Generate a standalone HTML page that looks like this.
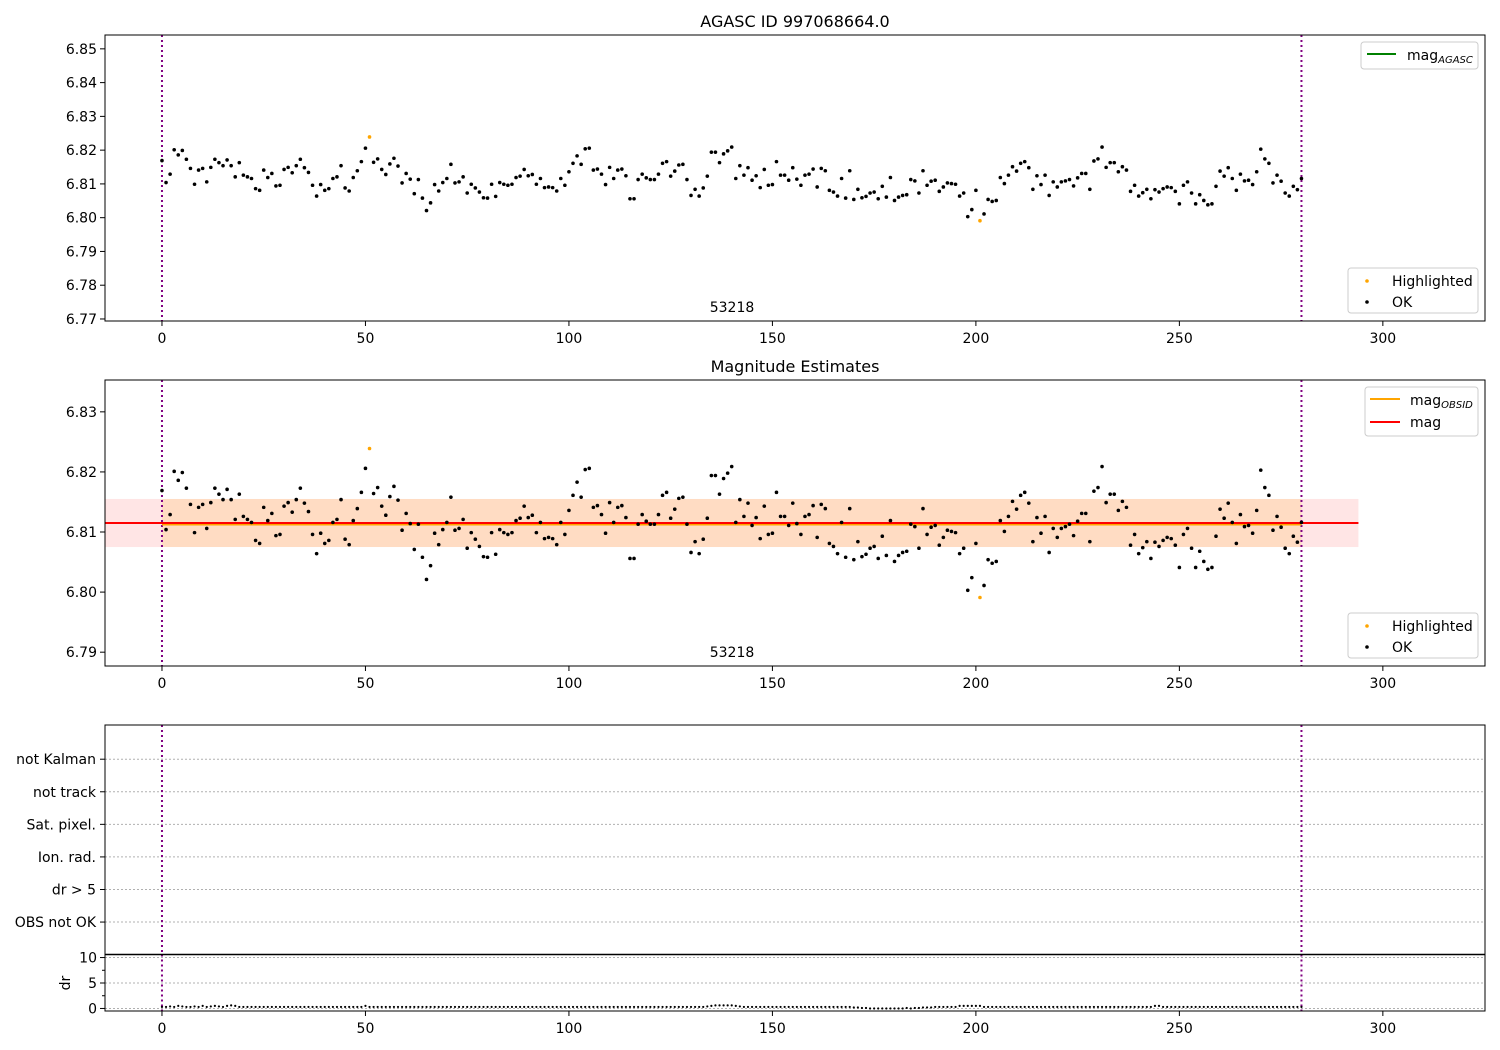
<!DOCTYPE html>
<html><head><meta charset="utf-8"><style>
html,body{margin:0;padding:0;background:#fff;}
svg{display:block;font-family:"DejaVu Sans","Liberation Sans",sans-serif;}
</style></head><body>
<svg id="chart" width="1500" height="1050" viewBox="0 0 1500 1050" xmlns="http://www.w3.org/2000/svg"></svg>
<script>
const magValues = [
6.8169,6.8104,6.8129,6.8201,6.8186,6.8199,6.8173,6.8146,6.8099,6.8141,
6.8146,6.8106,6.8149,6.8173,6.8163,6.8154,6.8171,6.8154,6.8121,6.8163,
6.8126,6.8121,6.8116,6.8086,6.8081,6.8141,6.8119,6.8131,6.8094,6.8096,
6.8143,6.8149,6.8133,6.8154,6.8173,6.8148,6.8134,6.8096,6.8064,6.8098,
6.8081,6.8086,6.8116,6.8121,6.8154,6.8088,6.8079,6.8119,6.8139,6.8166,
6.8206,6.8239,6.8164,6.8174,6.8143,6.8128,6.8159,6.8176,6.8153,6.8103,
6.8131,6.8114,6.8071,6.8113,6.8058,6.8021,6.8044,6.8098,6.8079,6.8104,
6.8116,6.8158,6.8103,6.8106,6.8121,6.8073,6.8099,6.8088,6.8076,6.8059,
6.8058,6.8099,6.8063,6.8104,6.8099,6.8096,6.8099,6.8119,6.8123,6.8143,
6.8124,6.8128,6.8099,6.8116,6.8089,6.8091,6.8089,6.8079,6.8116,6.8096,
6.8136,6.8161,6.8183,6.8158,6.8204,6.8206,6.8141,6.8144,6.8129,6.8098,
6.8149,6.8116,6.8141,6.8144,6.8124,6.8056,6.8056,6.8113,6.8129,6.8118,
6.8113,6.8113,6.8129,6.8161,6.8166,6.8123,6.8138,6.8156,6.8158,6.8113,
6.8066,6.8084,6.8064,6.8088,6.8123,6.8194,6.8194,6.8163,6.8189,6.8198,
6.8209,6.8116,6.8154,6.8126,6.8148,6.8111,6.8124,6.8089,6.8143,6.8096,
6.8098,6.8166,6.8126,6.8126,6.8111,6.8148,6.8114,6.8096,6.8126,6.8129,
6.8144,6.8091,6.8146,6.8139,6.8081,6.8076,6.8064,6.8116,6.8058,6.8139,
6.8054,6.8084,6.8059,6.8063,6.8073,6.8076,6.8056,6.8093,6.8061,6.8119,
6.8051,6.8061,6.8066,6.8068,6.8113,6.8109,6.8073,6.8139,6.8096,6.8108,
6.8111,6.8078,6.8091,6.8103,6.8101,6.8099,6.8064,6.8073,6.8003,6.8024,
6.8081,6.7991,6.8011,6.8054,6.8048,6.8051,6.8119,6.8101,6.8126,6.8151,
6.8138,6.8161,6.8166,6.8148,6.8084,6.8124,6.8098,6.8126,6.8066,6.8106,
6.8091,6.8106,6.8109,6.8113,6.8094,6.8118,6.8131,6.8131,6.8084,6.8168,
6.8174,6.8209,6.8149,6.8163,6.8163,6.8136,6.8151,6.8141,6.8078,6.8096,
6.8064,6.8074,6.8084,6.8056,6.8083,6.8076,6.8086,6.8091,6.8089,6.8078,
6.8041,6.8096,6.8106,6.8073,6.8041,6.8068,6.8051,6.8038,6.8041,6.8093,
6.8138,6.8123,6.8148,6.8116,6.8081,6.8129,6.8109,6.8111,6.8098,6.8136,
6.8203,6.8174,6.8161,6.8103,6.8126,6.8108,6.8073,6.8064,6.8093,6.8083,
6.8116];
const highlightedIdx = [51, 201];
const drValues = [
0.3,0.3,0.4,0.3,0.5,0.4,0.3,0.3,0.4,0.3,0.5,0.3,0.4,0.5,0.4,0.3,0.5,0.6,0.5,0.3,
0.3,0.3,0.3,0.3,0.3,0.3,0.3,0.3,0.3,0.3,0.3,0.3,0.3,0.3,0.3,0.3,0.3,0.3,0.3,0.3,
0.3,0.3,0.3,0.3,0.3,0.3,0.3,0.3,0.3,0.3,0.5,0.3,0.3,0.3,0.3,0.3,0.3,0.3,0.3,0.3,
0.3,0.3,0.3,0.3,0.3,0.3,0.3,0.3,0.3,0.3,0.3,0.3,0.3,0.3,0.3,0.3,0.3,0.3,0.3,0.3,
0.3,0.3,0.3,0.3,0.3,0.3,0.3,0.3,0.3,0.3,0.3,0.3,0.3,0.3,0.3,0.3,0.3,0.3,0.3,0.3,
0.3,0.3,0.3,0.3,0.3,0.3,0.3,0.3,0.3,0.3,0.3,0.3,0.3,0.3,0.3,0.3,0.3,0.3,0.3,0.3,
0.3,0.3,0.3,0.3,0.3,0.3,0.3,0.3,0.3,0.3,0.3,0.3,0.3,0.3,0.4,0.5,0.6,0.6,0.6,0.6,
0.6,0.5,0.4,0.3,0.3,0.3,0.3,0.3,0.3,0.3,0.3,0.3,0.3,0.3,0.3,0.3,0.3,0.3,0.3,0.3,
0.3,0.3,0.3,0.3,0.3,0.3,0.3,0.3,0.3,0.3,0.2,0.2,0.1,0.1,0.0,0.0,0.0,0.0,0.0,0.0,
0.0,0.0,0.0,0.1,0.0,0.1,0.1,0.2,0.2,0.2,0.3,0.3,0.3,0.3,0.3,0.3,0.5,0.5,0.5,0.5,
0.5,0.5,0.3,0.3,0.3,0.3,0.3,0.3,0.3,0.3,0.3,0.3,0.3,0.3,0.3,0.3,0.3,0.3,0.3,0.3,
0.3,0.3,0.3,0.3,0.3,0.3,0.3,0.3,0.3,0.3,0.3,0.3,0.3,0.3,0.3,0.3,0.3,0.3,0.3,0.3,
0.3,0.3,0.3,0.3,0.5,0.5,0.3,0.3,0.3,0.3,0.3,0.3,0.3,0.3,0.3,0.3,0.3,0.3,0.3,0.3,
0.3,0.3,0.3,0.3,0.3,0.3,0.3,0.3,0.3,0.3,0.3,0.3,0.3,0.3,0.3,0.3,0.3,0.3,0.3,0.3,
0.3];
const xTicks = [0, 50, 100, 150, 200, 250, 300];
const topYTicks = [6.77, 6.78, 6.79, 6.80, 6.81, 6.82, 6.83, 6.84, 6.85];
const midYTicks = [6.79, 6.80, 6.81, 6.82, 6.83];
const flagLabels = ["OBS not OK", "dr > 5", "Ion. rad.", "Sat. pixel.", "not track", "not Kalman"];
const drTicks = [0, 5, 10];
const magMean = 6.8115;
const magStd = 0.004;
const obsidStart = 0, obsidEnd = 280;
const obsLabel = "53218";

const NS = "http://www.w3.org/2000/svg";
const svg = document.getElementById('chart');
function el(tag, attrs, parent) {
  const e = document.createElementNS(NS, tag);
  for (const k in attrs) e.setAttribute(k, attrs[k]);
  (parent || svg).appendChild(e);
  return e;
}
const L = 105, R = 1485, XMIN = -14, XMAX = 325.1;
const xs = v => L + (v - XMIN) / (XMAX - XMIN) * (R - L);
function yScale(top, bot, vmin, vmax) { return v => bot - (v - vmin) / (vmax - vmin) * (bot - top); }
const yTop = yScale(35, 321, 6.7694, 6.8541);
const yMid = yScale(380, 666, 6.7877, 6.8353);
const yFlag = yScale(725, 953, -0.95, 6.05);
const yDr = yScale(954.5, 1011, -0.5, 10.6);

function txt(x, y, s, size, anchor, name, parent) {
  const t = el('text', {x: x, y: y, 'font-size': size, 'text-anchor': anchor || 'middle', fill: '#000'}, parent);
  
  
  t.textContent = s;
  return t;
}
function xAxis(bot, name, labels) {
  const g = el('g', {});
  
  
  xTicks.forEach(v => {
    el('line', {x1: xs(v), x2: xs(v), y1: bot, y2: bot + 5, stroke: '#000', 'stroke-width': 1}, g);
    if (labels) txt(xs(v), bot + 22, String(v), 14, 'middle', 'x-tick-label', g);
  });
}
function yAxis(ticks, ys, name, fmt) {
  const g = el('g', {});
  
  
  ticks.forEach(v => {
    el('line', {x1: L - 5, x2: L, y1: ys(v), y2: ys(v), stroke: '#000'}, g);
    txt(L - 8, ys(v) + 5, fmt(v), 14, 'end', 'y-tick-label', g);
  });
}
function vlines(top, bot) {
  [obsidStart, obsidEnd].forEach(v => {
    const l = el('line', {x1: xs(v), x2: xs(v), y1: top, y2: bot, stroke: '#800080', 'stroke-width': 2, 'stroke-dasharray': '2,3'});
    
    
  });
}
function frame(top, bot, name) {
  const r = el('rect', {x: L, y: top, width: R - L, height: bot - top, fill: 'none', stroke: '#000', 'stroke-width': 1});
  
  
}
function points(ys, name) {
  const g = el('g', {});
  
  
  magValues.forEach((v, i) => {
    const hl = highlightedIdx.indexOf(i) >= 0;
    const c = el('circle', {cx: xs(i), cy: ys(v), r: 1.8, fill: hl ? '#ffa500' : '#000'}, g);
    
    
  });
}
function legendBox(x, y, w, h, name) {
  const g = el('g', {});
  
  
  el('rect', {x: x, y: y, width: w, height: h, rx: 3, fill: '#fff', 'fill-opacity': 0.8, stroke: '#ccc'}, g);
  return g;
}
function ptLegend(x, y) {
  const g = legendBox(x, y, 130, 45, 'points-legend');
  el('circle', {cx: x + 19, cy: y + 13, r: 1.8, fill: '#ffa500'}, g);
  txt(x + 44, y + 18, 'Highlighted', 14, 'start', 'legend-highlighted', g);
  el('circle', {cx: x + 19, cy: y + 34, r: 1.8, fill: '#000'}, g);
  txt(x + 44, y + 39, 'OK', 14, 'start', 'legend-ok', g);
}

// ---------- Top panel ----------
txt(795, 27, 'AGASC ID 997068664.0', 16, 'middle', 'top-title');
vlines(35, 321);
points(yTop, 'top-points');
txt(732, 312, obsLabel, 14, 'middle', 'top-obsid-label');
frame(35, 321, 'top-axes');
xAxis(321, 'top-x-axis', true);
yAxis(topYTicks, yTop, 'top-y-axis', v => v.toFixed(2));
{
  const g = legendBox(1361, 42, 117, 27, 'agasc-legend');
  el('line', {x1: 1367, x2: 1396, y1: 54, y2: 54, stroke: '#008000', 'stroke-width': 2}, g);
  const t = txt(1407, 60, 'mag', 14, 'start', 'legend-mag-agasc', g);
  const s = el('tspan', {'font-size': 10, 'font-style': 'italic', dy: 3}, t);
  s.textContent = 'AGASC';
}
ptLegend(1348, 268);

// ---------- Middle panel ----------
txt(795, 372, 'Magnitude Estimates', 16, 'middle', 'middle-title');
{
  const band1 = el('rect', {x: xs(XMIN), y: yMid(magMean + magStd), width: xs(294) - xs(XMIN), height: yMid(magMean - magStd) - yMid(magMean + magStd), fill: '#ff0000', 'fill-opacity': 0.1});
  
  
  const band2 = el('rect', {x: xs(obsidStart), y: yMid(magMean + magStd), width: xs(obsidEnd) - xs(obsidStart), height: yMid(magMean - magStd) - yMid(magMean + magStd), fill: '#ffa500', 'fill-opacity': 0.15});
  
  
}
vlines(380, 666);
{
  const l1 = el('line', {x1: xs(obsidStart), x2: xs(obsidEnd), y1: yMid(magMean) + 1.5, y2: yMid(magMean) + 1.5, stroke: '#ffa500', 'stroke-width': 2});
  
  
  const l2 = el('line', {x1: xs(XMIN), x2: xs(294), y1: yMid(magMean), y2: yMid(magMean), stroke: '#ff0000', 'stroke-width': 2});
  
  
}
points(yMid, 'middle-points');
txt(732, 657, obsLabel, 14, 'middle', 'middle-obsid-label');
frame(380, 666, 'middle-axes');
xAxis(666, 'middle-x-axis', true);
yAxis(midYTicks, yMid, 'middle-y-axis', v => v.toFixed(2));
{
  const g = legendBox(1365, 387, 113, 49, 'mag-legend');
  el('line', {x1: 1370, x2: 1400, y1: 399, y2: 399, stroke: '#ffa500', 'stroke-width': 2}, g);
  const t = txt(1410, 405, 'mag', 14, 'start', 'legend-mag-obsid', g);
  const s = el('tspan', {'font-size': 10, 'font-style': 'italic', dy: 3}, t);
  s.textContent = 'OBSID';
  el('line', {x1: 1370, x2: 1400, y1: 422, y2: 422, stroke: '#ff0000', 'stroke-width': 2}, g);
  txt(1410, 427, 'mag', 14, 'start', 'legend-mag', g);
}
ptLegend(1348, 613);

// ---------- Flags panel ----------
{
  const g = el('g', {});
  
  
  flagLabels.forEach((s, i) => {
    const y = yFlag(i);
    el('line', {x1: L, x2: R, y1: y, y2: y, stroke: '#b0b0b0', 'stroke-dasharray': '2,2', 'stroke-width': 1}, g);
    el('line', {x1: L - 5, x2: L, y1: y, y2: y, stroke: '#000'}, g);
    txt(L - 9, y + 5, s, 14, 'end', 'flag-label', g);
  });
}
vlines(725, 953);
frame(725, 954.5, 'flags-axes');

// ---------- dr panel ----------
{
  const g = el('g', {});
  
  
  drTicks.forEach(v => el('line', {x1: L, x2: R, y1: yDr(v), y2: yDr(v), stroke: '#b0b0b0', 'stroke-dasharray': '2,2'}, g));
  [2.5, 7.5].forEach(v => el('line', {x1: L - 3, x2: L, y1: yDr(v), y2: yDr(v), stroke: '#000'}, g));
}
vlines(954.5, 1011);
{
  const g = el('g', {});
  
  
  drValues.forEach((v, i) => {
    const c = el('circle', {cx: xs(i), cy: yDr(v), r: 1.1, fill: '#000'}, g);
    
    
  });
}
frame(954.5, 1011, 'dr-axes');
el('line', {x1: L, x2: R, y1: 954.5, y2: 954.5, stroke: '#000', 'stroke-width': 1.5});
xAxis(1011, 'dr-x-axis', true);
yAxis(drTicks, yDr, 'dr-y-axis', v => String(v));
{
  const t = txt(0, 0, 'dr', 14, 'middle', 'dr-y-axis-title');
  t.setAttribute('transform', 'translate(70,983) rotate(-90)');
}
</script>
</body></html>
